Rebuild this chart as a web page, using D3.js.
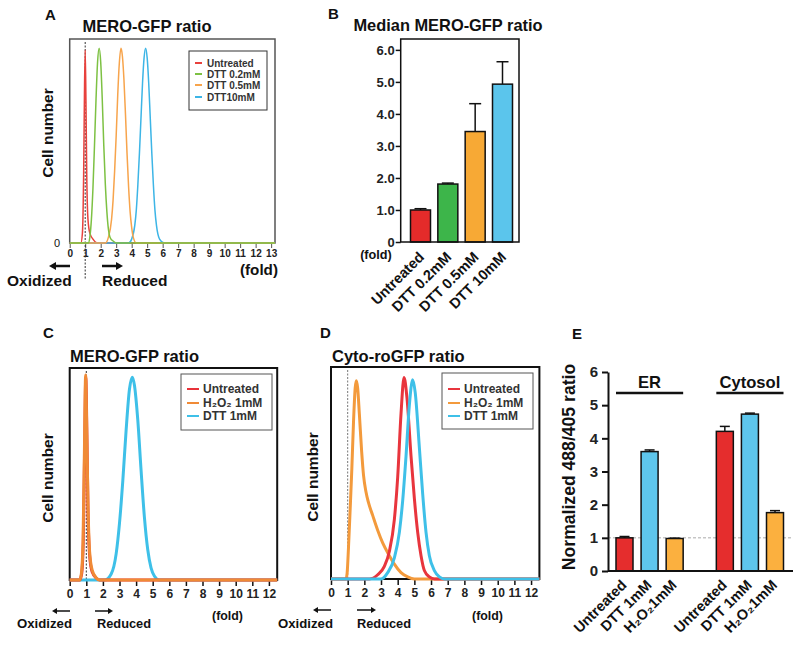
<!DOCTYPE html>
<html><head><meta charset="utf-8">
<script src="https://cdn.jsdelivr.net/npm/d3@7"></script>
<style>body{margin:0;background:#fff}svg{display:block}text{font-family:"Liberation Sans",Arial,sans-serif}</style>
</head><body><svg id="c" width="800" height="645"></svg>
<script>
// ---------- DATA ----------
// Panel A: MERO-GFP ratio histograms ([fold, relative cell number])
const aTicks = [0,1,2,3,4,5,6,7,8,9,10,11,12,13];
const aLegend = ["Untreated","DTT 0.2mM","DTT 0.5mM","DTT10mM"];
const aUntreated = [[0,0],[0.72,0],[0.82,5],[0.9,35],[0.95,75],[1.0,99],[1.05,72],[1.1,35],[1.18,12],[1.3,5],[1.5,2],[1.8,0],[13.25,0]];
const aDtt02 = [[0,0],[1.2,0],[1.3,3],[1.4,12],[1.5,28],[1.6,50],[1.7,74],[1.8,93],[1.9,100],[2.0,93],[2.1,74],[2.2,50],[2.3,30],[2.4,16],[2.5,7],[2.6,3],[2.8,1],[3.0,0],[13.25,0]];
const aDtt05 = [[0,0],[2.3,0],[2.5,3],[2.7,12],[2.8,22],[2.9,37],[3.0,55],[3.1,76],[3.2,92],[3.31,100],[3.4,96],[3.5,84],[3.6,66],[3.7,46],[3.8,29],[3.9,16],[4.0,8],[4.1,3],[4.3,0],[13.25,0]];
const aDtt10 = [[0,0],[3.8,0],[4.0,2],[4.2,9],[4.3,17],[4.4,30],[4.5,46],[4.6,64],[4.7,82],[4.8,95],[4.9,100],[5.0,95],[5.1,82],[5.2,64],[5.3,46],[5.4,30],[5.5,17],[5.6,9],[5.8,2],[6.1,0],[13.25,0]];

// Panel B: median MERO-GFP ratio
const bCategories = ["Untreated","DTT 0.2mM","DTT 0.5mM","DTT 10mM"];
const bValues = [1.0, 1.81, 3.45, 4.93];
const bErrors = [0.04, 0.03, 0.87, 0.70];
const bTicks = [0,1,2,3,4,5,6];

// Panel C: MERO-GFP ratio histograms
const cdTicks = [0,1,2,3,4,5,6,7,8,9,10,11,12];
const cLegend = ["Untreated","H₂O₂ 1mM","DTT 1mM"];
const cUntreated = [[0,0],[0.6,0],[0.72,3],[0.82,20],[0.9,65],[0.97,100],[1.04,70],[1.1,35],[1.2,12],[1.35,4],[1.6,1],[1.8,0],[12.5,0]];
const cH2O2 = [[0,0],[0.6,0],[0.7,3],[0.8,18],[0.88,60],[0.96,101],[1.03,72],[1.1,38],[1.2,14],[1.35,5],[1.6,1],[1.8,0],[12.5,0]];
const cDtt = [[0,0],[2.1,0],[2.5,3],[2.8,13],[3.0,28],[3.2,49],[3.4,74],[3.6,94],[3.77,100],[3.9,96],[4.1,79],[4.3,54],[4.5,31],[4.7,15],[4.9,6],[5.1,2],[5.4,0],[12.5,0]];

// Panel D: Cyto-roGFP ratio histograms
const dLegend = ["Untreated","H₂O₂ 1mM","DTT 1mM"];
const dUntreated = [[0,0],[2.3,0],[2.8,2],[3.2,6],[3.5,13],[3.8,28],[4.0,48],[4.2,78],[4.38,95],[4.55,86],[4.8,58],[5.0,38],[5.2,22],[5.4,11],[5.6,4],[5.9,1],[6.2,0],[12.5,0]];
const dH2O2 = [[0,0],[0.9,0],[0.97,3],[1.05,15],[1.15,33],[1.25,52],[1.35,74],[1.45,90],[1.52,93.5],[1.6,90],[1.7,78],[1.84,60],[1.95,49],[2.1,41],[2.25,36],[2.5,30],[2.8,23],[3.1,17],[3.5,11],[3.8,7],[4.2,3],[4.6,1],[5.0,0],[12.5,0]];
const dDtt = [[0,0],[3.0,0],[3.4,3],[3.8,10],[4.1,22],[4.3,37],[4.5,58],[4.7,82],[4.9,94],[5.05,88],[5.3,62],[5.5,40],[5.7,22],[5.9,11],[6.2,4],[6.5,1],[6.8,0],[12.5,0]];

// Panel E: normalized 488/405 ratio
const eGroups = ["ER","Cytosol"];
const eTreatments = ["Untreated","DTT 1mM","H₂O₂1mM"];
const eER = [1.0, 3.6, 0.98];
const eERerr = [0.04, 0.05, 0.01];
const eCyt = [4.21, 4.73, 1.76];
const eCytErr = [0.15, 0.03, 0.06];
const eTicks = [0,1,2,3,4,5,6];

// ---------- DRAWING ----------
const svg = d3.select("#c");
const FONT = '"Liberation Sans",Arial,sans-serif';

function text(x, y, s, size, o = {}) {
  const t = svg.append("text").attr("x", x).attr("y", y)
    .attr("font-size", size).attr("font-weight", o.weight || "bold")
    .attr("fill", o.fill || "#111").attr("text-anchor", o.anchor || "start").text(s);
  if (o.rotate !== undefined) t.attr("transform", `rotate(${o.rotate},${x},${y})`);
  return t;
}
function arrow(x1, x2, y, headAt, w, hl, hw) {
  const dir = headAt === "left" ? -1 : 1;
  const tip = headAt === "left" ? x1 : x2;
  const base = tip - dir * hl;
  svg.append("line").attr("x1", headAt === "left" ? base : x1).attr("x2", headAt === "left" ? x2 : base)
    .attr("y1", y).attr("y2", y).attr("stroke", "#111").attr("stroke-width", w);
  svg.append("path").attr("d", `M${tip},${y}L${base},${y - hw}L${base},${y + hw}Z`).attr("fill", "#111");
}

function histPanel(c) {
  const x = d3.scaleLinear().domain([0, c.xMax]).range([c.x0, c.x1]);
  const y = d3.scaleLinear().domain([0, c.yMax]).range([c.y1, c.y0]);
  svg.append("rect").attr("x", c.x0).attr("y", c.y0).attr("width", c.x1 - c.x0).attr("height", c.y1 - c.y0)
    .attr("fill", "none").attr("stroke", c.boxColor).attr("stroke-width", c.boxW);
  const ax = svg.append("g").attr("transform", `translate(0,${c.y1})`)
    .call(d3.axisBottom(x).tickValues(c.ticks).tickSize(c.tickLen).tickPadding(c.tickPad).tickFormat(d3.format("d")));
  ax.select(".domain").remove();
  ax.selectAll(".tick line").attr("stroke", c.boxColor).attr("stroke-width", c.tickW);
  ax.selectAll(".tick text").attr("font-size", c.tickFont).attr("font-weight", "bold")
    .attr("font-family", FONT).attr("fill", "#222");
  // dotted reference line at fold = 1
  svg.append("line").attr("x1", x(1)).attr("x2", x(1)).attr("y1", c.y0 + 3).attr("y2", c.dashEnd)
    .attr("stroke", c.dashColor).attr("stroke-width", 1).attr("stroke-dasharray", "2,1.5");
  const line = d3.line().x(d => x(d[0])).y(d => y(d[1])).curve(d3.curveMonotoneX);
  c.series.forEach(s => {
    svg.append("path").datum(s.data).attr("d", line).attr("fill", "none")
      .attr("stroke", s.color).attr("stroke-width", c.lineW).attr("stroke-linejoin", "round");
  });
  // legend
  const L = c.legend;
  svg.append("rect").attr("x", L.x0).attr("y", L.y0).attr("width", L.x1 - L.x0).attr("height", L.y1 - L.y0)
    .attr("fill", "#fff").attr("stroke", L.stroke).attr("stroke-width", 1);
  L.items.forEach((it, i) => {
    const yy = L.rows[i];
    svg.append("line").attr("x1", L.dx0).attr("x2", L.dx1).attr("y1", yy).attr("y2", yy)
      .attr("stroke", it.color).attr("stroke-width", L.dashW);
    text(L.tx, yy + L.font * 0.36, it.label, L.font, { fill: "#333" });
  });
  return x;
}

// ---- Panel A ----
text(45, 20, "A", 15);
text(147, 32, "MERO-GFP ratio", 16.5, { anchor: "middle" });
histPanel({
  x0: 69.7, x1: 275, y0: 39, y1: 243, xMax: 13.25, yMax: 104.7, ticks: aTicks,
  tickLen: 5, tickPad: 2, tickW: 1, tickFont: 10, boxColor: "#555", boxW: 1.5,
  dashColor: "#333", dashEnd: 280, lineW: 1.5,
  series: [
    { data: aUntreated, color: "#e8413c" },
    { data: aDtt10, color: "#3db5e6" },
    { data: aDtt05, color: "#f7a44c" },
    { data: aDtt02, color: "#7dc143" }
  ],
  legend: { x0: 189, x1: 267, y0: 51, y1: 110, stroke: "#333", rows: [63, 74, 85, 97], dx0: 195, dx1: 202, tx: 207, font: 10, dashW: 2,
    items: aLegend.map((l, i) => ({ label: l, color: ["#e8413c", "#7dc143", "#f7a44c", "#3db5e6"][i] })) }
});
text(57, 247, "0", 11, { weight: "normal", anchor: "middle" });
text(53, 133, "Cell number", 15.5, { anchor: "middle", rotate: -90 });
arrow(49, 70, 266, "left", 2.5, 7, 4);
arrow(102, 123, 266, "right", 2.5, 7, 4);
text(7, 286, "Oxidized", 15.5);
text(102, 286, "Reduced", 15.5);
text(240, 275, "(fold)", 15.2);

// ---- Panel B ----
text(328, 19, "B", 15);
text(448, 31, "Median MERO-GFP ratio", 16.4, { anchor: "middle" });
const yB = d3.scaleLinear().domain([0, 6.34]).range([242, 39]);
const xB = d3.scalePoint().domain(bCategories).range([420.5, 502.5]);
const bColors = ["#e42b2a", "#3db54a", "#f7a935", "#5bc5ec"];
const bw = 20;
bCategories.forEach((cat, i) => {
  const cx = xB(cat);
  svg.append("line").attr("x1", cx).attr("x2", cx).attr("y1", yB(bValues[i])).attr("y2", yB(bValues[i] + bErrors[i]))
    .attr("stroke", "#111").attr("stroke-width", 1.5);
  svg.append("line").attr("x1", cx - 6).attr("x2", cx + 6).attr("y1", yB(bValues[i] + bErrors[i])).attr("y2", yB(bValues[i] + bErrors[i]))
    .attr("stroke", "#111").attr("stroke-width", 1.5);
  svg.append("rect").attr("x", cx - bw / 2).attr("y", yB(bValues[i])).attr("width", bw).attr("height", yB(0) - yB(bValues[i]))
    .attr("fill", bColors[i]).attr("stroke", "#111").attr("stroke-width", 1.5);
  text(cx + 4.5, 258, cat, 14.5, { anchor: "end", rotate: -45 });
});
svg.append("rect").attr("x", 400.7).attr("y", 39).attr("width", 118.3).attr("height", 203)
  .attr("fill", "none").attr("stroke", "#111").attr("stroke-width", 1.5);
const axB = svg.append("g").attr("transform", "translate(400.7,0)")
  .call(d3.axisLeft(yB).tickValues(bTicks).tickSize(5).tickPadding(1).tickFormat(d => d === 0 ? "0" : d.toFixed(1)));
axB.select(".domain").remove();
axB.selectAll(".tick line").attr("stroke", "#111").attr("stroke-width", 1.5);
axB.selectAll(".tick text").attr("font-size", 13).attr("font-weight", "bold").attr("font-family", FONT).attr("fill", "#222");
text(376, 259, "(fold)", 12.7, { anchor: "middle" });

// ---- Panel C ----
text(43, 338, "C", 15);
text(70, 362, "MERO-GFP ratio", 16.5);
histPanel({
  x0: 69.7, x1: 277.2, y0: 368, y1: 580, xMax: 12.5, yMax: 104.5, ticks: cdTicks,
  tickLen: 6, tickPad: 3, tickW: 1.5, tickFont: 12, boxColor: "#111", boxW: 2,
  dashColor: "#333", dashEnd: 580, lineW: 3,
  series: [
    { data: cDtt, color: "#3ec0e8" },
    { data: cUntreated, color: "#e8323a" },
    { data: cH2O2, color: "#f08a36" }
  ],
  legend: { x0: 181, x1: 272, y0: 374, y1: 430, stroke: "#555", rows: [389, 403, 416], dx0: 187, dx1: 199, tx: 203, font: 12, dashW: 2,
    items: cLegend.map((l, i) => ({ label: l, color: ["#e8323a", "#f08a36", "#3ec0e8"][i] })) }
});
text(53, 478, "Cell number", 15.5, { anchor: "middle", rotate: -90 });
arrow(52, 70, 611, "left", 1.5, 5, 3);
arrow(95, 113, 611, "right", 1.5, 5, 3);
text(17, 628, "Oxidized", 13.2);
text(97, 628, "Reduced", 12.8);
text(212, 620, "(fold)", 12.4);

// ---- Panel D ----
text(320, 338, "D", 15);
text(332, 362, "Cyto-roGFP ratio", 16.5);
histPanel({
  x0: 331, x1: 539.4, y0: 367, y1: 579, xMax: 12.5, yMax: 100, ticks: cdTicks,
  tickLen: 6, tickPad: 3, tickW: 1.5, tickFont: 12, boxColor: "#111", boxW: 2,
  dashColor: "#777", dashEnd: 579, lineW: 3,
  series: [
    { data: dH2O2, color: "#f39a3c" },
    { data: dUntreated, color: "#e8353d" },
    { data: dDtt, color: "#3ec0e8" }
  ],
  legend: { x0: 442, x1: 533, y0: 373, y1: 429, stroke: "#555", rows: [389, 403, 416], dx0: 448, dx1: 460, tx: 464, font: 12, dashW: 2,
    items: dLegend.map((l, i) => ({ label: l, color: ["#e8353d", "#f39a3c", "#3ec0e8"][i] })) }
});
text(318, 477, "Cell number", 15.5, { anchor: "middle", rotate: -90 });
arrow(313, 331, 610, "left", 1.5, 5, 3);
arrow(357, 376, 610, "right", 1.5, 5, 3);
text(278, 628, "Oxidized", 13.2);
text(357, 628, "Reduced", 12.8);
text(472, 620, "(fold)", 12.4);

// ---- Panel E ----
text(572, 339, "E", 15);
const yE = d3.scaleLinear().domain([0, 6]).range([571, 372]);
const eKeys = [];
eGroups.forEach((g, gi) => { eTreatments.forEach(t => eKeys.push(g + "|" + t)); if (gi === 0) eKeys.push("gap"); });
const xE = d3.scalePoint().domain(eKeys).range([624.5, 775]);
const eColors = ["#e52d2d", "#5ec6ec", "#fbb03f"];
const ebw = 17;
// reference line at 1
svg.append("line").attr("x1", 608).attr("x2", 793).attr("y1", yE(1)).attr("y2", yE(1))
  .attr("stroke", "#aaa").attr("stroke-width", 1).attr("stroke-dasharray", "3,2");
eGroups.forEach((g, gi) => {
  const vals = gi === 0 ? eER : eCyt, errs = gi === 0 ? eERerr : eCytErr;
  eTreatments.forEach((t, i) => {
    const cx = xE(g + "|" + t);
    const top = yE(vals[i] + errs[i]);
    svg.append("line").attr("x1", cx).attr("x2", cx).attr("y1", yE(vals[i])).attr("y2", top).attr("stroke", "#111").attr("stroke-width", 1.5);
    svg.append("line").attr("x1", cx - 5).attr("x2", cx + 5).attr("y1", top).attr("y2", top).attr("stroke", "#111").attr("stroke-width", 1.5);
    svg.append("rect").attr("x", cx - ebw / 2).attr("y", yE(vals[i])).attr("width", ebw).attr("height", yE(0) - yE(vals[i]))
      .attr("fill", eColors[i]).attr("stroke", "#111").attr("stroke-width", 1.5);
    text(cx + 3, 586, t, 14.5, { anchor: "end", rotate: -45 });
  });
  const xa = xE(g + "|" + eTreatments[0]) - ebw / 2, xb = xE(g + "|" + eTreatments[2]) + ebw / 2;
  svg.append("line").attr("x1", xa).attr("x2", xb).attr("y1", 393).attr("y2", 393).attr("stroke", "#111").attr("stroke-width", 2.5);
  text((xa + xb) / 2, 388, g, 16.6, { anchor: "middle" });
});
svg.append("line").attr("x1", 608).attr("x2", 793).attr("y1", 571).attr("y2", 571).attr("stroke", "#111").attr("stroke-width", 2);
const axE = svg.append("g").attr("transform", "translate(608,0)")
  .call(d3.axisLeft(yE).tickValues(eTicks).tickSize(6).tickSizeOuter(0).tickPadding(4).tickFormat(d3.format("d")));
axE.select(".domain").attr("stroke", "#111").attr("stroke-width", 2);
axE.selectAll(".tick line").attr("stroke", "#111").attr("stroke-width", 2);
axE.selectAll(".tick text").attr("font-size", 15).attr("font-weight", "bold").attr("font-family", FONT).attr("fill", "#222");
text(575, 467, "Normalized 488/405 ratio", 17.6, { anchor: "middle", rotate: -90 });
</script></body></html>
